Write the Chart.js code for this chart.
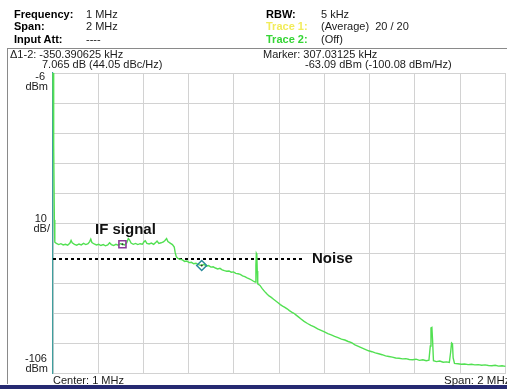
<!DOCTYPE html>
<html>
<head>
<meta charset="utf-8">
<script src="https://cdn.jsdelivr.net/npm/chart.js@4.4.1/dist/chart.umd.min.js"></script>
<style>
  html, body { margin: 0; padding: 0; background: #fff; }
  #wrap { position: relative; width: 507px; height: 389px; overflow: hidden; font-family: "Liberation Sans", Arial, sans-serif; font-size: 11px; color: #1a1a1a; }
  #c { position: absolute; left: 0; top: 0; }
  .t { position: absolute; white-space: nowrap; line-height: 12px; }
  .b { font-weight: bold; color: #000; }
  .r { text-align: right; }
  .ann { position: absolute; white-space: nowrap; font-family: "Liberation Sans", Arial, sans-serif; font-weight: bold; font-size: 15px; color: #111; line-height: 16px; }
  #frame { position: absolute; left: 7px; top: 48px; width: 510px; height: 336px; border-left: 1px solid #8a8a8a; border-top: 1px solid #8a8a8a; box-sizing: border-box; }
  #bar { position: absolute; left: 0; top: 385px; width: 507px; height: 4px; background: #262a72; }
</style>
</head>
<body>
<div id="wrap">
  <div id="frame"></div>
  <canvas id="c" width="512" height="389"></canvas>
  <div id="bar"></div>

  <div class="t b" style="left:14px;top:8px">Frequency:</div>
  <div class="t" style="left:86px;top:8px">1 MHz</div>
  <div class="t b" style="left:14px;top:20px">Span:</div>
  <div class="t" style="left:86px;top:20px">2 MHz</div>
  <div class="t b" style="left:14px;top:33px">Input Att:</div>
  <div class="t" style="left:86px;top:33px">----</div>

  <div class="t b" style="left:266px;top:8px">RBW:</div>
  <div class="t" style="left:321px;top:8px">5 kHz</div>
  <div class="t b" style="left:266px;top:20px;color:#f2ec5a">Trace 1:</div>
  <div class="t" style="left:321px;top:20px">(Average)&nbsp; 20 / 20</div>
  <div class="t b" style="left:266px;top:33px;color:#35d535">Trace 2:</div>
  <div class="t" style="left:321px;top:33px">(Off)</div>

  <div class="t" style="left:10px;top:48px">Δ1-2: -350.390625 kHz</div>
  <div class="t" style="left:42px;top:58px">7.065 dB (44.05 dBc/Hz)</div>
  <div class="t" style="left:263px;top:48px">Marker: 307.03125 kHz</div>
  <div class="t" style="left:305px;top:58px">-63.09 dBm (-100.08 dBm/Hz)</div>

  <div class="t r" style="right:462px;top:70px">-6</div>
  <div class="t r" style="right:459px;top:80px">dBm</div>
  <div class="t r" style="right:460px;top:212px">10</div>
  <div class="t r" style="right:457px;top:222px">dB/</div>
  <div class="t r" style="right:460px;top:352px">-106</div>
  <div class="t r" style="right:459px;top:362px">dBm</div>

  <div class="t" style="left:53px;top:374px">Center: 1 MHz</div>
  <div class="t" style="left:444px;top:374px;font-size:11.5px">Span: 2 MHz</div>

  <div class="ann" style="left:95px;top:221px">IF signal</div>
  <div class="ann" style="left:312px;top:250px">Noise</div>
</div>

<script>
// Axis setup: 0..2 MHz, -106..-6 dBm at 10 dB/div
const xTickValues = [0, 0.2, 0.4, 0.6, 0.8, 1.0, 1.2, 1.4, 1.6, 1.8, 2.0];
const yTickValues = [-106, -96, -86, -76, -66, -56, -46, -36, -26, -16, -6];

// Trace 1 (average) spectrum
const freqMHz = [
  0.000, 0.002, 0.004, 0.006, 0.008, 0.015, 0.025, 0.035, 0.045, 0.055,
  0.065, 0.075, 0.080, 0.085, 0.095, 0.105, 0.115, 0.125, 0.135, 0.145,
  0.155, 0.162, 0.167, 0.172, 0.182, 0.192, 0.202, 0.212, 0.222, 0.232,
  0.242, 0.250, 0.258, 0.268, 0.278, 0.288, 0.298, 0.307, 0.316, 0.326,
  0.333, 0.338, 0.345, 0.355, 0.365, 0.375, 0.385, 0.395, 0.403, 0.408,
  0.415, 0.425, 0.435, 0.445, 0.455, 0.460, 0.468, 0.478, 0.488, 0.495,
  0.502, 0.508, 0.518, 0.528, 0.536, 0.540, 0.545, 0.552, 0.562, 0.572,
  0.582, 0.592, 0.602, 0.612, 0.622, 0.632, 0.642, 0.6574, 0.668, 0.678,
  0.688, 0.698, 0.708, 0.718, 0.728, 0.738, 0.748, 0.758, 0.768, 0.778,
  0.788, 0.798, 0.808, 0.818, 0.828, 0.838, 0.848, 0.858, 0.868, 0.878,
  0.888, 0.894, 0.897, 0.899, 0.901, 0.903, 0.905, 0.915, 0.925, 0.935,
  0.945, 0.955, 0.965, 0.975, 0.985, 0.995, 1.005, 1.015, 1.025, 1.035,
  1.045, 1.055, 1.065, 1.075, 1.085, 1.095, 1.110, 1.125, 1.140, 1.155,
  1.170, 1.185, 1.200, 1.215, 1.230, 1.245, 1.260, 1.275, 1.290, 1.305,
  1.320, 1.335, 1.350, 1.365, 1.380, 1.395, 1.410, 1.425, 1.440, 1.455,
  1.470, 1.485, 1.500, 1.515, 1.530, 1.545, 1.560, 1.575, 1.590, 1.605,
  1.620, 1.635, 1.650, 1.662, 1.668, 1.671, 1.675, 1.678, 1.682, 1.695,
  1.710, 1.725, 1.740, 1.752, 1.758, 1.762, 1.766, 1.769, 1.775, 1.790,
  1.805, 1.820, 1.835, 1.850, 1.865, 1.880, 1.895, 1.910, 1.925, 1.940,
  1.955, 1.970, 1.985, 2.000
];
const levelDbm = [
  -6.0, -14.0, -30.0, -55.0, -62.4, -62.8, -63.2, -62.9, -63.3, -63.1,
  -63.4, -62.7, -61.8, -62.6, -63.1, -63.4, -63.0, -63.3, -62.8, -63.2,
  -62.9, -62.2, -61.4, -62.5, -63.0, -63.3, -63.1, -63.5, -63.2, -63.6,
  -63.3, -62.6, -63.2, -63.5, -63.1, -63.4, -62.9, -63.09, -63.3, -62.6,
  -61.2, -61.6, -62.7, -63.1, -62.8, -63.2, -62.9, -63.1, -62.2, -61.9,
  -62.8, -63.0, -62.7, -63.1, -62.4, -62.0, -62.8, -62.6, -62.3, -61.8,
  -61.2, -62.2, -62.7, -63.2, -64.0, -65.8, -67.2, -67.8, -68.1, -68.3,
  -68.8, -68.7, -69.2, -69.1, -69.6, -69.4, -69.9, -70.155, -69.8, -70.4,
  -70.2, -70.7, -70.6, -71.0, -71.3, -71.1, -71.6, -71.9, -72.1, -72.0,
  -72.4, -72.3, -72.8, -72.9, -73.1, -73.6, -73.9, -74.3, -74.6, -75.0,
  -75.5, -75.7, -70.0, -66.1, -66.4, -72.0, -76.3, -76.8, -77.9, -78.8,
  -79.6, -80.3, -80.8, -81.4, -82.0, -82.6, -83.2, -83.7, -84.1, -84.6,
  -85.2, -85.7, -86.1, -86.7, -87.3, -87.9, -88.8, -89.5, -90.1, -90.6,
  -91.3, -91.8, -92.3, -92.9, -93.3, -93.8, -94.2, -94.7, -95.0, -95.5,
  -95.9, -96.6, -97.1, -97.6, -98.1, -98.6, -98.9, -99.3, -99.6, -99.9,
  -100.3, -100.5, -100.7, -101.0, -101.1, -101.3, -101.2, -101.5, -101.6, -101.4,
  -101.8, -101.6, -101.9, -101.7, -97.0, -91.0, -90.8, -95.0, -101.9, -102.2,
  -102.0, -102.4, -102.3, -102.5, -99.0, -96.0, -96.3, -101.0, -102.8, -102.9,
  -103.1, -103.0, -103.2, -103.1, -103.3, -103.2, -103.4, -103.3, -103.5, -103.6,
  -103.4, -103.7, -103.6, -103.8
];

// Markers: M1 on the IF signal, M2 = M1 + delta
const marker1 = { freq: 0.30703125, level: -63.09 };
const marker2 = { freq: 0.30703125 + 0.350390625, level: -63.09 - 7.065 };

// Noise reference line
const noiseLineFreq = [0, 1.114];
const noiseLineLevel = [-68.0, -68.0];

const tracePoints = freqMHz.map((f, i) => ({ x: f, y: levelDbm[i] }));
const noisePoints = noiseLineFreq.map((f, i) => ({ x: f, y: noiseLineLevel[i] }));

new Chart(document.getElementById('c'), {
  type: 'scatter',
  data: {
    datasets: [
      {
        label: 'Noise',
        data: noisePoints,
        showLine: true,
        borderColor: '#000',
        borderWidth: 2,
        borderDash: [3, 3],
        pointRadius: 0,
        order: 3
      },
      {
        label: 'Trace 1',
        data: tracePoints,
        showLine: true,
        borderColor: '#52e052',
        borderWidth: 1.4,
        pointRadius: 0,
        tension: 0,
        clip: 1,
        order: 2
      },
      {
        label: 'M1',
        data: [{ x: marker1.freq, y: marker1.level }],
        pointStyle: 'rect',
        pointRadius: 5,
        borderColor: '#8c3b98',
        borderWidth: 1.6,
        backgroundColor: 'rgba(0,0,0,0)',
        order: 1
      },
      {
        label: 'M2',
        data: [{ x: marker2.freq, y: marker2.level }],
        pointStyle: 'rectRot',
        pointRadius: 5,
        borderColor: '#2a8b9c',
        borderWidth: 1.5,
        backgroundColor: 'rgba(0,0,0,0)',
        order: 1
      },
      {
        label: 'marker dots',
        data: [{ x: marker1.freq, y: marker1.level }, { x: marker2.freq, y: marker2.level }],
        pointStyle: 'circle',
        pointRadius: 1,
        borderWidth: 0,
        backgroundColor: '#333',
        order: 0
      }
    ]
  },
  options: {
    responsive: false,
    animation: false,
    devicePixelRatio: 1,
    layout: { padding: { left: 53, right: -3, top: 73, bottom: 16 } },
    plugins: { legend: { display: false }, tooltip: { enabled: false } },
    events: [],
    scales: {
      x: {
        type: 'linear',
        min: 0, max: 2,
        afterBuildTicks: s => { s.ticks = xTickValues.map(v => ({ value: v })); },
        ticks: { display: false },
        grid: { color: '#d2d2d2', lineWidth: 1, drawTicks: false },
        border: { display: true, color: '#d2d2d2' }
      },
      y: {
        type: 'linear',
        min: -106, max: -6,
        afterBuildTicks: s => { s.ticks = yTickValues.map(v => ({ value: v })); },
        ticks: { display: false },
        grid: { color: '#d2d2d2', lineWidth: 1, drawTicks: false },
        border: { display: true, color: '#3f9e9e', width: 1.2 }
      }
    }
  }
});
</script>
</body>
</html>
